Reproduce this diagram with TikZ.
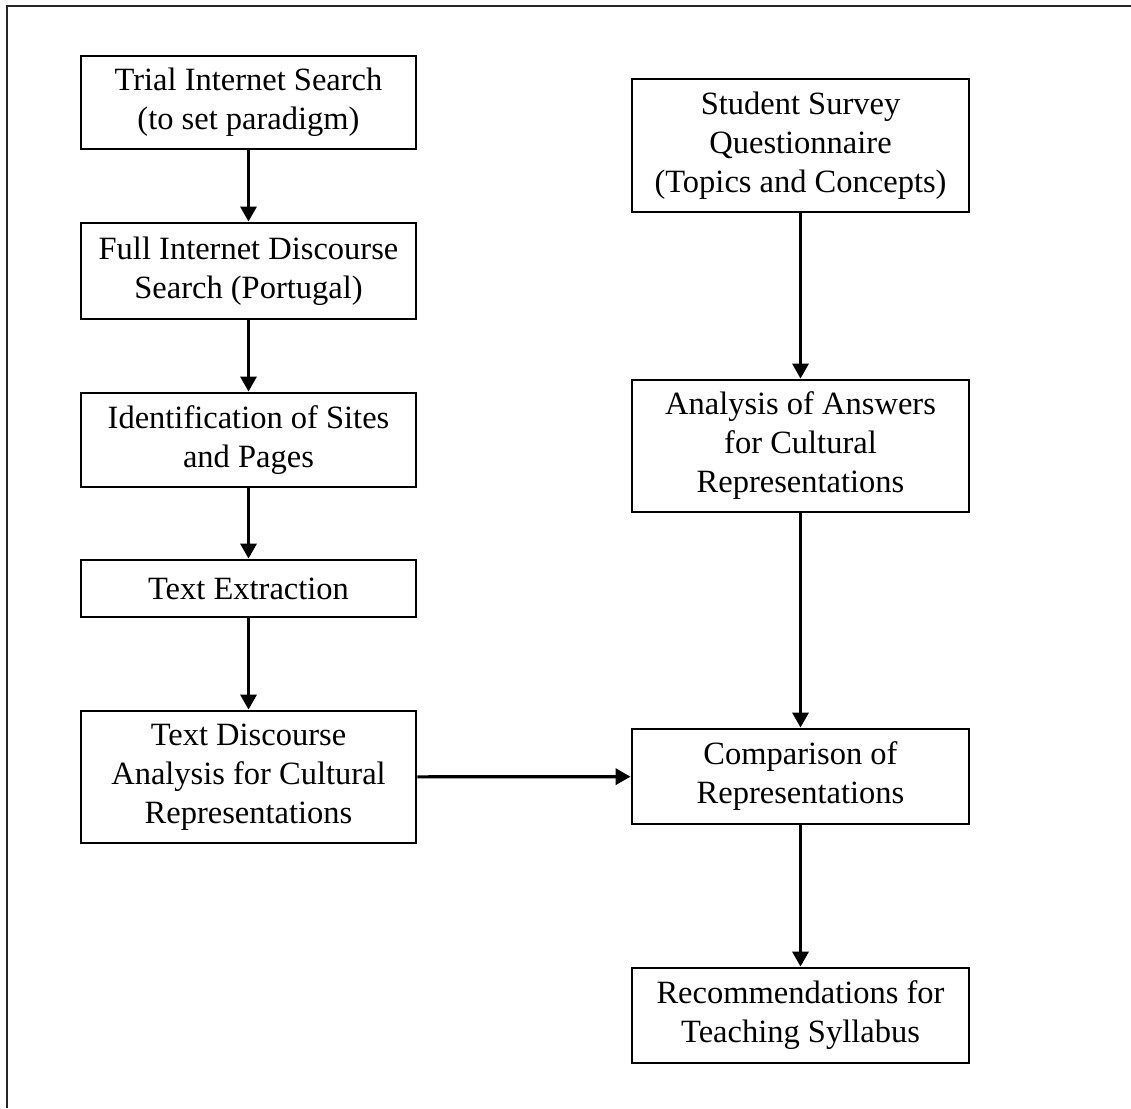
\documentclass[tikz,border=0pt]{standalone}
\usepackage{fontspec}
\setmainfont{Liberation Serif}
\usetikzlibrary{arrows.meta}
\begin{document}
\begin{tikzpicture}[x=1pt,y=-1pt,
  box/.style={draw, line width=2.8pt, align=center, inner sep=0pt,
    font=\fontsize{32.5}{39}\selectfont},
  lbox/.style={box, minimum width=335pt},
  rbox/.style={box, minimum width=337pt},
  flow/.style={line width=3.2pt, -{Triangle[length=15pt,width=16pt]}}]
\useasboundingbox (0,0) rectangle (1131,1108);
\draw[line width=2.2pt, black!85] (7,1108) -- (7,6) -- (1131,6);
% left column
\node[lbox, minimum height=93pt] (trial) at (248.5,102.5) {Trial Internet Search\\(to set paradigm)};
\node[lbox, minimum height=96pt] (full) at (248.5,271) {Full Internet Discourse\\Search (Portugal)};
\node[lbox, minimum height=94pt] (ident) at (248.5,440) {Identification of Sites\\and Pages};
\node[lbox, minimum height=57pt] (extr) at (248.5,588.5) {Text Extraction};
\node[lbox, minimum height=132pt] (tda) at (248.5,777) {Text Discourse\\Analysis for Cultural\\Representations};
% right column
\node[rbox, minimum height=133pt] (student) at (800.5,145.5) {Student Survey\\Questionnaire\\(Topics and Concepts)};
\node[rbox, minimum height=132pt] (answers) at (800.5,446) {Analysis of Answers\\for Cultural\\Representations};
\node[rbox, minimum height=95pt] (comp) at (800.5,776.5) {Comparison of\\Representations};
\node[rbox, minimum height=95pt] (rec) at (800.5,1015.5) {Recommendations for\\Teaching Syllabus};
% connectors
\draw[flow] (trial) -- (full);
\draw[flow] (full) -- (ident);
\draw[flow] (ident) -- (extr);
\draw[flow] (extr) -- (tda);
\draw[flow] (student) -- (answers);
\draw[flow] (answers) -- (comp);
\draw[flow] (comp) -- (rec);
\draw[flow] (tda) -- (comp);
\end{tikzpicture}
\end{document}
